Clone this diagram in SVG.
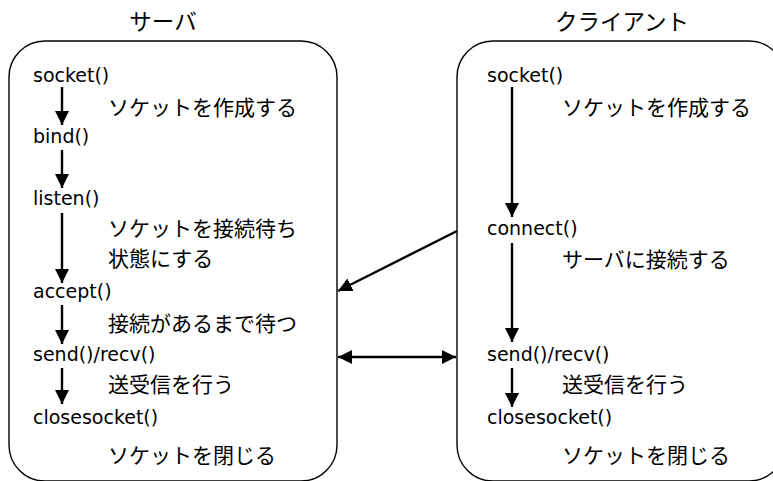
<svg xmlns="http://www.w3.org/2000/svg" width="773" height="481" viewBox="0 0 773 481">
<style>
.box{fill:#fff;stroke:#000;stroke-width:1.4}
.fn{font-family:"DejaVu Sans","Liberation Sans",sans-serif;font-size:19px;fill:#000}
.jp{font-family:"Noto Sans CJK JP",sans-serif;font-size:21px;fill:#000}
.ttl{font-family:"Noto Sans CJK JP",sans-serif;font-size:22.5px;fill:#000;text-anchor:middle}
.arr{stroke:#000;stroke-width:2.4;fill:none;marker-end:url(#ah)}
.arr2{stroke:#000;stroke-width:2.4;fill:none;marker-end:url(#ah);marker-start:url(#ah)}
</style>
<defs>
<marker id="ah" viewBox="0 0 10 10" refX="10" refY="5" markerWidth="14" markerHeight="15" markerUnits="userSpaceOnUse" orient="auto-start-reverse">
<path d="M0,0 L10,5 L0,10 z" fill="#000"/>
</marker>
</defs>
<rect width="773" height="481" fill="#fff"/>
<g id="server">
<text class="ttl" x="163" y="30">サーバ</text>
<rect class="box" x="9" y="41" width="328" height="440" rx="36" ry="36"/>
<text class="fn" x="33" y="82">socket()</text>
<text class="jp" x="108" y="115">ソケットを作成する</text>
<text class="fn" x="33" y="143">bind()</text>
<text class="fn" x="33" y="205">listen()</text>
<text class="jp" x="108" y="236">ソケットを接続待ち</text>
<text class="jp" x="108" y="266">状態にする</text>
<text class="fn" x="33" y="298">accept()</text>
<text class="jp" x="108" y="331">接続があるまで待つ</text>
<text class="fn" x="33" y="361">send()/recv()</text>
<text class="jp" x="108" y="392">送受信を行う</text>
<text class="fn" x="33" y="424">closesocket()</text>
<text class="jp" x="108" y="463">ソケットを閉じる</text>
</g>
<g id="client">
<text class="ttl" x="622" y="30">クライアント</text>
<rect class="box" x="457" y="41" width="328" height="440" rx="36" ry="36"/>
<text class="fn" x="487" y="82">socket()</text>
<text class="jp" x="562" y="115">ソケットを作成する</text>
<text class="fn" x="487" y="235">connect()</text>
<text class="jp" x="562" y="267">サーバに接続する</text>
<text class="fn" x="487" y="361">send()/recv()</text>
<text class="jp" x="562" y="392">送受信を行う</text>
<text class="fn" x="487" y="424">closesocket()</text>
<text class="jp" x="562" y="463">ソケットを閉じる</text>
</g>
<g id="connectors">
<line class="arr" x1="62" y1="87" x2="62" y2="125"/>
<line class="arr" x1="62" y1="150" x2="62" y2="188"/>
<line class="arr" x1="62" y1="213" x2="62" y2="283"/>
<line class="arr" x1="62" y1="305" x2="62" y2="344"/>
<line class="arr" x1="62" y1="368" x2="62" y2="404"/>
<line class="arr" x1="512" y1="87" x2="512" y2="217"/>
<line class="arr" x1="512" y1="243" x2="512" y2="342"/>
<line class="arr" x1="512" y1="368" x2="512" y2="407"/>
<line class="arr" x1="457" y1="231" x2="338" y2="291"/>
<line class="arr2" x1="338" y1="357" x2="456" y2="357"/>
</g>
</svg>
